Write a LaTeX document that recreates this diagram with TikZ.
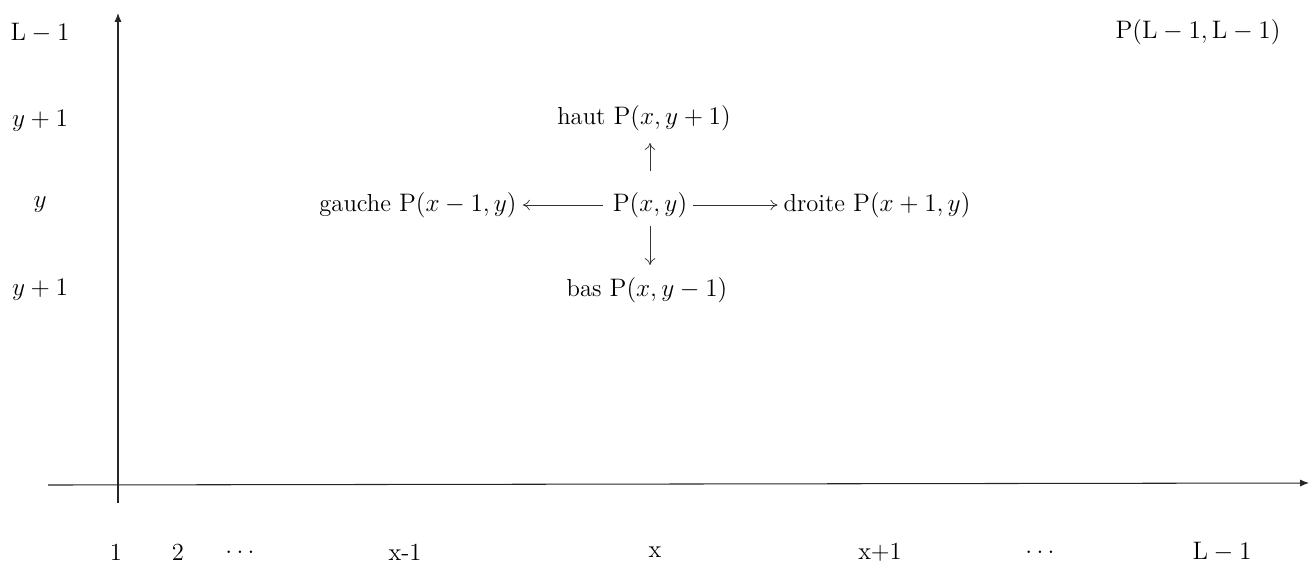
\documentclass[tikz,border=0pt]{standalone}
\usetikzlibrary{arrows.meta}
\begin{document}
\begin{tikzpicture}[x=0.02cm,y=-0.02cm,font=\fontsize{14}{17}\selectfont,
    fleche/.style={-{To[length=4pt,width=6pt]},thin,black!80},
    axe/.style={-{Latex[length=5pt,width=4pt]},semithick,black!85}]
    \useasboundingbox (0,0) rectangle (1310,572);
    % axes
    \coordinate (xdeb) at (48,485);
    \coordinate (xfin) at (1309,483);
    \coordinate (ydeb) at (118,503);
    \coordinate (yfin) at (118,13);
    \draw[axe] (xdeb) -- (xfin);
    \draw[axe] (ydeb) -- (yfin);
    % graduations verticales
    \foreach \nom/\y/\txt in {yL/33/{$\mathrm{L}-1$},yh/121/{$y+1$},yc/205/{$y$},yb/290/{$y+1$}}{
        \node (\nom) at (40,\y) {\txt};
    }
    % graduations horizontales
    \foreach \nom/\x/\txt in {x1/116/1,x2/178/2,xp/240/{$\ldots$},xm/405/x-1,xc/655/x,xq/880/x+1,xs/1040/{$\ldots$},xL/1222/{$\mathrm{L}-1$}}{
        \node (\nom) at (\x,552) {\txt};
    }
    \node (coin) at (1198,32) {$\mathrm{P}(\mathrm{L}-1,\mathrm{L}-1)$};
    % voisins
    \node (centre) at (650,205) {$\mathrm{P}(x,y)$};
    \node (haut) at (644,118) {haut $\mathrm{P}(x,y+1)$};
    \node (bas) at (647,290) {bas $\mathrm{P}(x,y-1)$};
    \node (gauche) at (418,205) {gauche $\mathrm{P}(x-1,y)$};
    \node (droite) at (877,205) {droite $\mathrm{P}(x+1,y)$};
    \draw[fleche,shorten <=0.3cm,shorten >=0.12cm] (centre.north) -- (centre.north |- haut.south);
    \draw[fleche,shorten <=0.05cm,shorten >=0.12cm] (centre.south) -- (centre.south |- bas.north);
    \draw[fleche,shorten <=0.08cm] (centre) -- (gauche);
    \draw[fleche] (centre) -- (droite);
\end{tikzpicture}
\end{document}
